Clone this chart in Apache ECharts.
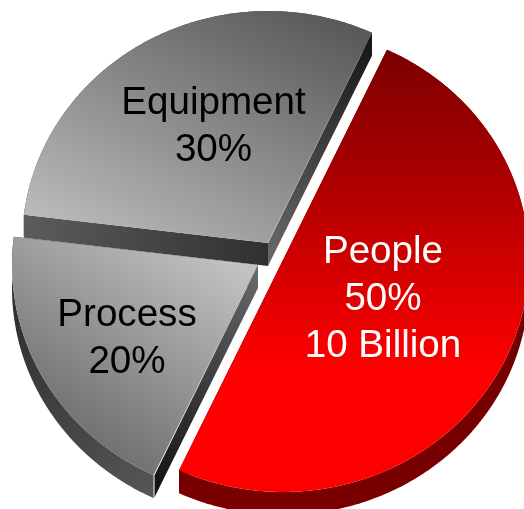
<!DOCTYPE html>
<html>
<head>
<meta charset="utf-8">
<style>html,body{margin:0;padding:0;background:#fff}#c{width:524px;height:509px}</style>
<script src="https://cdn.jsdelivr.net/npm/echarts@6/dist/echarts.min.js"></script>
</head>
<body>
<div id="c"></div>
<script>
// Cost breakdown by share, listed clockwise from the top right
const categories = ['People', 'Process', 'Equipment'];
const shares = [50, 20, 30];
const captions = ['People\n50%\n10 Billion', 'Process\n20%', 'Equipment\n30%'];

// Painted back to front, as indexes into the arrays above
const drawOrder = [2, 1, 0];

const START_ANGLE = 65;    // degrees, counter-clockwise from east
const RX = 246, RY = 232;  // flattened disc
const DEPTH = 23;

const grad = (x, y, x2, y2, stops) => ({
  type: 'linear', x, y, x2, y2, global: true,
  colorStops: stops.map(([offset, color]) => ({ offset, color }))
});

// edgeIn is the cut face at the start of the sweep, edgeOut the one at its end
const looks = [
  { // People
    cx: 283, cy: 260, labelX: 383, labelY: 299.5, textColor: '#fff',
    top: grad(0, 50, 0, 370, [[0, '#7c0000'], [0.35, '#a40000'], [1, '#ff0000']]),
    arc: grad(0, 250, 0, 500, [[0, '#6e0000'], [1, '#7a0000']]),
    edgeIn: '#700000', edgeOut: '#700000'
  },
  { // Process
    cx: 258, cy: 265, labelX: 127, labelY: 338.5, textColor: '#000',
    top: grad(234, 264, 93, 472, [[0, '#c2c2c2'], [1, '#686868']]),
    arc: grad(13, 300, 160, 490, [[0, '#2e2e2e'], [1, '#565656']]),
    edgeIn: grad(258, 270, 155, 495, [[0, '#6a6a6a'], [1, '#101010']]),
    edgeOut: '#333',
    crease: { from: 'apex', to: 'first', stops: [[0, 'rgba(255,255,255,0)'], [0.35, 'rgba(255,255,255,0.25)'], [1, 'rgba(255,255,255,0.95)']] }
  },
  { // Equipment
    cx: 268, cy: 243, labelX: 213.5, labelY: 127, textColor: '#000',
    top: grad(22, 230, 175, -67, [[0, '#c0c0c0'], [1, '#585858']]),
    arc: '#444',
    edgeIn: grad(24, 220, 268, 265, [[0, '#5c5c5c'], [1, '#303030']]),
    edgeOut: grad(268, 270, 371, 40, [[0, '#6c6c6c'], [1, '#161616']]),
    crease: { from: 'apex', to: 'last', stops: [[0, 'rgba(255,255,255,0.25)'], [1, 'rgba(255,255,255,0.05)']] }
  }
];

// Clockwise start angle of each slice, accumulated from the shares
const total = shares.reduce((a, b) => a + b, 0);
const startAngles = [];
shares.reduce((acc, v, i) => { startAngles[i] = acc; return acc - v / total * 360; }, START_ANGLE);

function rim(look, deg) {
  const t = deg * Math.PI / 180;
  return [look.cx + RX * Math.cos(t), look.cy - RY * Math.sin(t)];
}

function renderSlice(params, api) {
  const idx = api.value(0);
  const look = looks[idx];
  const sweep = api.value(1) / total * 360;
  const a0 = startAngles[idx];
  const steps = Math.ceil(sweep * 2);
  const arcPts = [];
  for (let s = 0; s <= steps; s++) arcPts.push(rim(look, a0 - sweep * s / steps));
  const apex = [look.cx, look.cy];
  const down = p => [p[0], p[1] + DEPTH];
  const first = arcPts[0], last = arcPts[arcPts.length - 1];
  const poly = (points, fill) => ({ type: 'polygon', shape: { points }, style: { fill } });

  const children = [
    poly(arcPts.concat(arcPts.slice().reverse().map(down)), look.arc),
    poly([apex, last, down(last), down(apex)], look.edgeOut),
    poly([apex, first, down(first), down(apex)], look.edgeIn),
    poly([apex].concat(arcPts), look.top)
  ];

  if (look.crease) {
    // Highlight along a cut edge of the top face
    const end = look.crease.to === 'first' ? first : last;
    const points = look.crease.to === 'first' ? [apex, end, down(end)] : [apex, end];
    children.push({
      type: 'polyline',
      shape: { points },
      style: {
        fill: 'none', lineWidth: 1,
        stroke: grad(apex[0], apex[1], end[0], end[1], look.crease.stops)
      }
    });
  }

  children.push({
    type: 'text',
    style: {
      text: captions[idx], x: look.labelX, y: look.labelY,
      align: 'center', verticalAlign: 'middle',
      font: '38.6px "Liberation Sans", Arial, sans-serif',
      lineHeight: 47, fill: look.textColor
    }
  });
  return { type: 'group', children };
}

const chart = echarts.init(document.getElementById('c'), null, { renderer: 'canvas' });
chart.setOption({
  animation: false,
  backgroundColor: '#fff',
  series: [{
    type: 'custom',
    coordinateSystem: 'none',
    silent: true,
    renderItem: renderSlice,
    data: drawOrder.map(i => ({ name: categories[i], value: [i, shares[i]] }))
  }]
});
</script>
</body>
</html>
